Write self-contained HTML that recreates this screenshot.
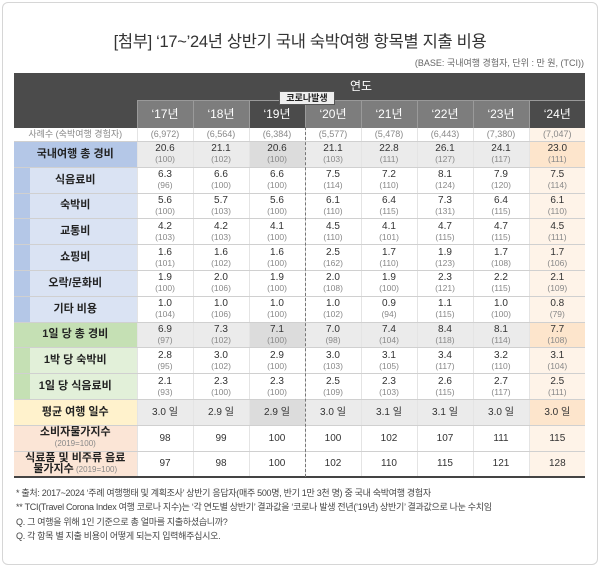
<!DOCTYPE html>
<html><head><meta charset="utf-8">
<style>
body{margin:0;width:600px;height:567px;background:#fff;font-family:"Liberation Sans","Noto Sans CJK KR",sans-serif;position:relative;overflow:hidden}
.frame{position:absolute;left:2px;top:2px;width:594px;height:561px;border:1px solid #d6d6d6;border-radius:6px}
.title{position:absolute;left:0;width:600px;top:28px;text-align:center;font-size:16.5px;color:#333;letter-spacing:-0.3px}
.base{position:absolute;right:16px;top:56px;font-size:9px;color:#666}
table{position:absolute;left:14px;top:73px;border-collapse:collapse;table-layout:fixed;width:571px}
td{padding:0;text-align:center;vertical-align:middle;font-size:10px;color:#333;line-height:11px;border-bottom:1px solid #d0d0d0;border-left:1px solid #e4e4e4}
td small{display:block;font-size:8.5px;color:#888}
.h1 td{background:#4b4b4b;color:#fff;height:27px;border:none;font-size:12px}
.h2 td{height:27px;color:#fff;font-size:12px;border:none;border-left:1px solid #9a9a9a;border-top:1px solid #999}
.yl{background:#7d7d7d}.yd{background:#4b4b4b}
.s td{height:13px;font-size:9px;color:#888}
.r td{height:24.8px}
.tot td{background:#ebebeb}
.tot td.c19{background:#dcdcdc}
.tot td.c24{background:#fde5cc}
td.c24{background:#fef3e8}
table td.lab{font-weight:bold;font-size:11px;color:#222;border-left:none}
table td.bt{background:#b4c7e7}
table td.bs{background:#dae3f3;box-shadow:inset 16px 0 0 #b4c7e7}
table td.gt{background:#c5e0b4}
table td.gs{background:#e2f0d9;box-shadow:inset 16px 0 0 #c5e0b4}
table td.yw{background:#fff2cc}
table td.pk{background:#fbe5d6}
.last td{border-bottom:2px solid #444}
.dash{position:absolute;left:305px;top:127px;height:350px;border-left:1px dashed #777}
.covid{position:absolute;left:279px;top:91px;width:54px;height:12px;background:#eee;border:1px solid #555;font-size:9px;font-weight:bold;color:#222;text-align:center;line-height:12px}
.notes{position:absolute;left:16px;top:486px;font-size:9px;color:#444;line-height:14.3px;letter-spacing:-0.3px}
</style></head><body>
<div class="frame"></div>
<div class="title">[첨부] ‘17~’24년 상반기 국내 숙박여행 항목별 지출 비용</div>
<div class="base">(BASE: 국내여행 경험자, 단위 : 만 원, (TCI))</div>
<table>
<colgroup><col style="width:123px"><col span="8" style="width:56px"></colgroup>
<tr class="h1"><td rowspan="2" style="background:#4b4b4b"></td><td colspan="8">연도</td></tr>
<tr class="h2"><td class="yl">‘17년</td><td class="yl">‘18년</td><td class="yd">‘19년</td><td class="yl">‘20년</td><td class="yl">‘21년</td><td class="yl">‘22년</td><td class="yl">‘23년</td><td class="yd">‘24년</td></tr>
<tr class="s"><td style="border-left:none">사례수 (숙박여행 경험자)</td><td>(6,972)</td><td>(6,564)</td><td>(6,384)</td><td>(5,577)</td><td>(5,478)</td><td>(6,443)</td><td>(7,380)</td><td class="c24">(7,047)</td></tr>
<tr class="r tot"><td class="lab bt">국내여행 총 경비</td><td>20.6<small>(100)</small></td><td>21.1<small>(102)</small></td><td class="c19">20.6<small>(100)</small></td><td>21.1<small>(103)</small></td><td>22.8<small>(111)</small></td><td>26.1<small>(127)</small></td><td>24.1<small>(117)</small></td><td class="c24">23.0<small>(111)</small></td></tr>
<tr class="r"><td class="lab bs">식음료비</td><td>6.3<small>(96)</small></td><td>6.6<small>(100)</small></td><td>6.6<small>(100)</small></td><td>7.5<small>(114)</small></td><td>7.2<small>(110)</small></td><td>8.1<small>(124)</small></td><td>7.9<small>(120)</small></td><td class="c24">7.5<small>(114)</small></td></tr>
<tr class="r"><td class="lab bs">숙박비</td><td>5.6<small>(100)</small></td><td>5.7<small>(103)</small></td><td>5.6<small>(100)</small></td><td>6.1<small>(110)</small></td><td>6.4<small>(115)</small></td><td>7.3<small>(131)</small></td><td>6.4<small>(115)</small></td><td class="c24">6.1<small>(110)</small></td></tr>
<tr class="r"><td class="lab bs">교통비</td><td>4.2<small>(103)</small></td><td>4.2<small>(103)</small></td><td>4.1<small>(100)</small></td><td>4.5<small>(110)</small></td><td>4.1<small>(101)</small></td><td>4.7<small>(115)</small></td><td>4.7<small>(115)</small></td><td class="c24">4.5<small>(111)</small></td></tr>
<tr class="r"><td class="lab bs">쇼핑비</td><td>1.6<small>(101)</small></td><td>1.6<small>(102)</small></td><td>1.6<small>(100)</small></td><td>2.5<small>(162)</small></td><td>1.7<small>(110)</small></td><td>1.9<small>(123)</small></td><td>1.7<small>(108)</small></td><td class="c24">1.7<small>(106)</small></td></tr>
<tr class="r"><td class="lab bs">오락/문화비</td><td>1.9<small>(100)</small></td><td>2.0<small>(106)</small></td><td>1.9<small>(100)</small></td><td>2.0<small>(108)</small></td><td>1.9<small>(100)</small></td><td>2.3<small>(121)</small></td><td>2.2<small>(115)</small></td><td class="c24">2.1<small>(109)</small></td></tr>
<tr class="r"><td class="lab bs">기타 비용</td><td>1.0<small>(104)</small></td><td>1.0<small>(106)</small></td><td>1.0<small>(100)</small></td><td>1.0<small>(102)</small></td><td>0.9<small>(94)</small></td><td>1.1<small>(115)</small></td><td>1.0<small>(100)</small></td><td class="c24">0.8<small>(79)</small></td></tr>
<tr class="r tot"><td class="lab gt">1일 당 총 경비</td><td>6.9<small>(97)</small></td><td>7.3<small>(102)</small></td><td class="c19">7.1<small>(100)</small></td><td>7.0<small>(98)</small></td><td>7.4<small>(104)</small></td><td>8.4<small>(118)</small></td><td>8.1<small>(114)</small></td><td class="c24">7.7<small>(108)</small></td></tr>
<tr class="r"><td class="lab gs">1박 당 숙박비</td><td>2.8<small>(95)</small></td><td>3.0<small>(102)</small></td><td>2.9<small>(100)</small></td><td>3.0<small>(103)</small></td><td>3.1<small>(105)</small></td><td>3.4<small>(117)</small></td><td>3.2<small>(110)</small></td><td class="c24">3.1<small>(104)</small></td></tr>
<tr class="r"><td class="lab gs">1일 당 식음료비</td><td>2.1<small>(93)</small></td><td>2.3<small>(100)</small></td><td>2.3<small>(100)</small></td><td>2.5<small>(109)</small></td><td>2.3<small>(103)</small></td><td>2.6<small>(115)</small></td><td>2.7<small>(117)</small></td><td class="c24">2.5<small>(111)</small></td></tr>
<tr class="r tot"><td class="lab yw">평균 여행 일수</td><td>3.0 일</td><td>2.9 일</td><td class="c19">2.9 일</td><td>3.0 일</td><td>3.1 일</td><td>3.1 일</td><td>3.0 일</td><td class="c24">3.0 일</td></tr>
<tr class="r"><td class="lab pk">소비자물가지수<small style="font-weight:normal;font-size:8px">(2019=100)</small></td><td>98</td><td>99</td><td>100</td><td>100</td><td>102</td><td>107</td><td>111</td><td class="c24">115</td></tr>
<tr class="r last"><td class="lab pk">식료품 및 비주류 음료<br>물가지수<span style="font-weight:normal;font-size:8px;color:#888"> (2019=100)</span></td><td>97</td><td>98</td><td>100</td><td>102</td><td>110</td><td>115</td><td>121</td><td class="c24">128</td></tr>
</table>
<div class="dash"></div>
<div class="covid">코로나발생</div>
<div class="notes">* 출처: 2017~2024 ‘주례 여행행태 및 계획조사’ 상반기 응답자(매주 500명, 반기 1만 3천 명) 중 국내 숙박여행 경험자<br>** TCI(Travel Corona Index 여행 코로나 지수)는 ‘각 연도별 상반기’ 결과값을 ‘코로나 발생 전년(’19년) 상반기’ 결과값으로 나눈 수치임<br>Q. 그 여행을 위해 1인 기준으로 총 얼마를 지출하셨습니까?<br>Q. 각 항목 별 지출 비용이 어떻게 되는지 입력해주십시오.</div>
</body></html>
